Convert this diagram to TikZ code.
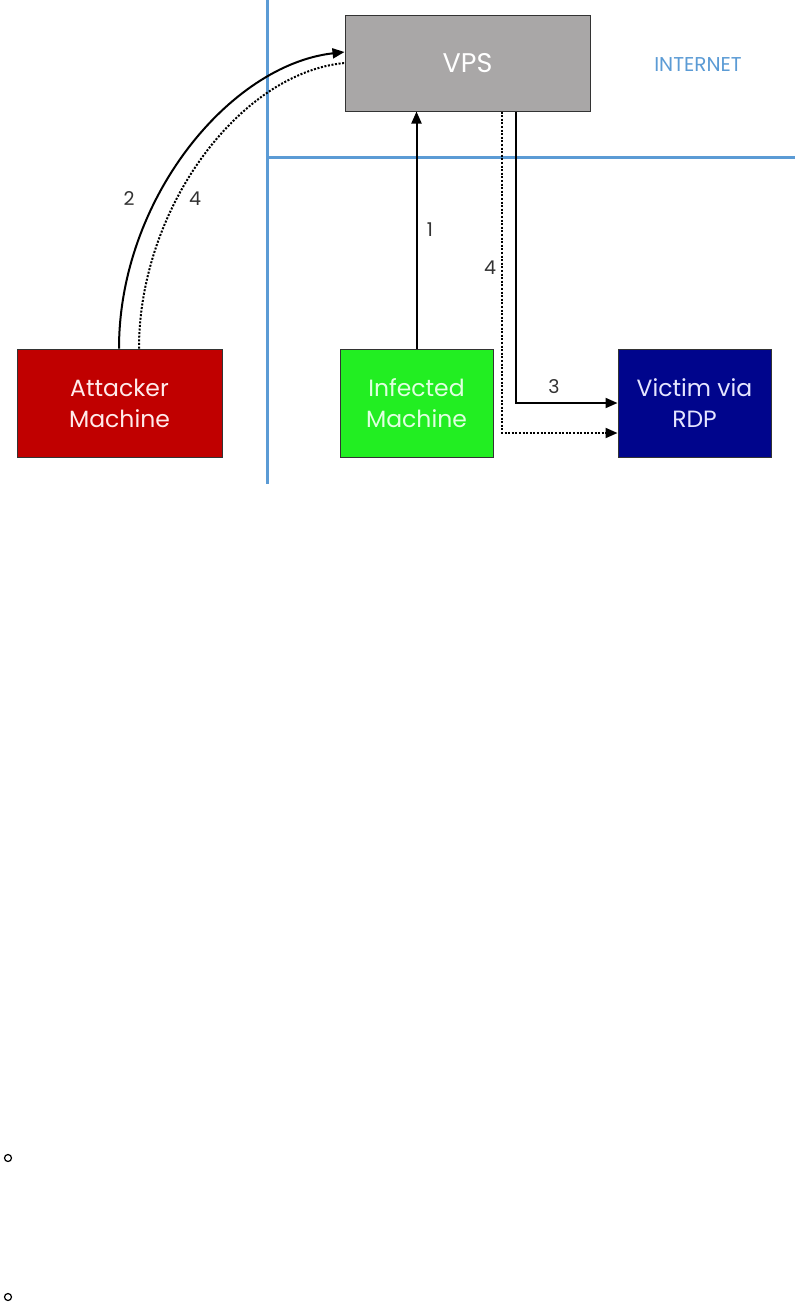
\documentclass[tikz,border=0pt]{standalone}
\usepackage{fontspec}
\setmainfont{Poppins}
\usetikzlibrary{arrows.meta}
\definecolor{netblue}{HTML}{5B9BD5}
\definecolor{vpsgray}{HTML}{A9A7A7}
\definecolor{attred}{HTML}{C00000}
\definecolor{infgreen}{HTML}{22EE22}
\definecolor{vicnavy}{HTML}{00058C}
\tikzset{
  box/.style={draw=black!80, line width=1pt, rectangle, inner sep=0pt, align=center,
    minimum height=108pt, font=\fontsize{23.5}{31}\selectfont},
  arr/.style={draw=black, line width=2pt, -{Triangle[length=12pt,width=10pt]}},
  dotline/.style={draw=black, line width=2pt, dash pattern=on 2pt off 1.6pt},
  dotarr/.style={dotline, -{Triangle[length=12pt,width=10pt]}},
  num/.style={inner sep=0pt, font=\fontsize{19}{19}\selectfont, text=black!80},
  netline/.style={draw=netblue, line width=3pt},
}
\begin{document}
\begin{tikzpicture}[x=1pt,y=-1pt]
\useasboundingbox (0,0) rectangle (795,1304);
\fill[white] (0,0) rectangle (795,1304);
% network boundary lines
\draw[netline] (267,0) -- (267,484);
\draw[netline] (267,157) -- (795,157);
\node[text=netblue, font=\fontsize{20}{20}\selectfont] (inet) at (698,65) {INTERNET};
% boxes
\node[box, fill=vpsgray, text=white, minimum width=245pt, minimum height=96pt, font=\fontsize{27}{27}\selectfont] (vps) at (467.5,63) {VPS};
\node[box, fill=attred, text=white!92!red, minimum width=205pt] (att) at (119.5,403) {Attacker\\Machine};
\node[box, fill=infgreen, text=white!88!green, minimum width=153pt] (inf) at (416.5,403) {Infected\\Machine};
\node[box, fill=vicnavy, text=white!90!blue, minimum width=153pt] (vic) at (694.5,403) {Victim via\\RDP};
% connectors
\draw[arr] (inf.north) -- (inf.north |- vps.south);
\draw[arr] ([xshift=-0.5pt]att.north) .. controls +(0,-149) and +(-115,13) .. ([yshift=11pt]vps.west);
\draw[dotline] ([xshift=19.5pt]att.north) .. controls +(0,-140) and +(-105,10) .. (vps.west);
\draw[arr] ([xshift=48.5pt]vps.south) |- (vic.west);
\draw[dotarr] ([xshift=34.5pt]vps.south) |- ([yshift=-30pt]vic.west);
% labels
\node[num] (l2) at (129,199) {2};
\node[num] (l4a) at (195,199) {4};
\node[num] (l1) at (430,230) {1};
\node[num] (l4b) at (490,268) {4};
\node[num] (l3) at (554,387) {3};
% bullets
\draw[line width=1.2pt] (8,1158) circle (3.5);
\draw[line width=1.2pt] (8,1297) circle (3.5);
\end{tikzpicture}
\end{document}
